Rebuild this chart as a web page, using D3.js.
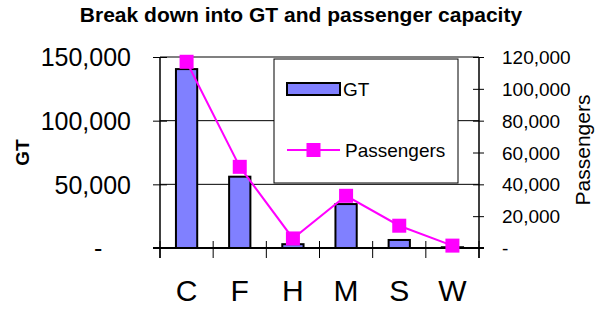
<!DOCTYPE html>
<html>
<head>
<meta charset="utf-8">
<script src="https://cdn.jsdelivr.net/npm/d3@7"></script>
<style>
  body { margin: 0; background: #fff; }
  text { font-family: "Liberation Sans", Arial, sans-serif; fill: #000; }
</style>
</head>
<body>
<div id="chart"></div>
<script>
// data
const categories = ['C', 'F', 'H', 'M', 'S', 'W'];
const gtValues = [140500, 56000, 3000, 34500, 6300, 600];
const passengerValues = [117000, 51000, 6000, 32800, 14000, 1500];
const gtTicks = [0, 50000, 100000, 150000];
const paxTicks = [0, 20000, 40000, 60000, 80000, 100000, 120000];

const w = 603, h = 309;
const pLeft = 160, pRight = 479, pTop = 57, pBottom = 248;

const svg = d3.select('#chart').append('svg')
  .attr('width', w).attr('height', h);

const x = d3.scaleBand().domain(categories).range([pLeft, pRight]).padding(0);
const yGT = d3.scaleLinear().domain([0, 150000]).range([pBottom, pTop]);
const yPax = d3.scaleLinear().domain([0, 120000]).range([pBottom, pTop]);

const fmt = d => d === 0 ? '-' : d3.format(',')(d);

// title
svg.append('text')
  .attr('x', 301).attr('y', 22)
  .attr('text-anchor', 'middle')
  .style('font-weight', 'bold').style('font-size', '21px')
  .text('Break down into GT and passenger capacity');

// gridlines
svg.append('g').selectAll('line')
  .data(gtTicks.filter(d => d > 0))
  .enter().append('line')
  .attr('x1', pLeft).attr('x2', pRight)
  .attr('y1', d => yGT(d)).attr('y2', d => yGT(d))
  .attr('stroke', d => d === 150000 ? '#808080' : '#000')
  .attr('stroke-width', d => d === 150000 ? 2 : 1);

// left axis
const yAxisL = d3.axisLeft(yGT).tickValues(gtTicks).tickFormat(fmt).tickSize(0).tickPadding(29);
const gL = svg.append('g').attr('transform', 'translate(' + pLeft + ',0)').call(yAxisL);
gL.select('.domain').remove();
gL.selectAll('text').style('font-size', '25px').attr('dy', '0.35em');
// zero shown as an accounting dash, further left
gL.selectAll('.tick text').filter(d => d === 0)
  .attr('text-anchor', 'start').attr('x', -66);
gL.selectAll('.tick').append('line').attr('x1', -7).attr('x2', 7).attr('stroke', '#000');
svg.append('line').attr('x1', pLeft).attr('x2', pLeft).attr('y1', pTop).attr('y2', pBottom + 10)
  .attr('stroke', '#000').attr('stroke-width', 1.5);

// right axis
const yAxisR = d3.axisRight(yPax).tickValues(paxTicks).tickFormat(fmt).tickSize(0).tickPadding(23);
const gR = svg.append('g').attr('transform', 'translate(' + pRight + ',0)').call(yAxisR);
gR.select('.domain').remove();
gR.selectAll('text').style('font-size', '19px').attr('dy', '0.35em');
gR.selectAll('.tick').append('line').attr('x1', -6).attr('x2', 5).attr('stroke', '#000');
svg.append('line').attr('x1', pRight).attr('x2', pRight).attr('y1', pTop).attr('y2', pBottom + 10)
  .attr('stroke', '#000').attr('stroke-width', 1.5);

// bars
const bw = x.bandwidth() * 0.4;
svg.append('g').selectAll('rect')
  .data(categories)
  .enter().append('rect')
  .attr('x', d => x(d) + (x.bandwidth() - bw) / 2)
  .attr('y', (d, i) => yGT(gtValues[i]))
  .attr('width', bw)
  .attr('height', (d, i) => pBottom - yGT(gtValues[i]))
  .attr('fill', '#8080ff')
  .attr('stroke', '#000').attr('stroke-width', 2);

// bottom axis
const xAxis = d3.axisBottom(x).tickSize(0).tickPadding(32);
const gX = svg.append('g').attr('transform', 'translate(0,' + pBottom + ')').call(xAxis);
gX.select('.domain').remove();
gX.selectAll('text').style('font-size', '30px');
svg.append('line').attr('x1', pLeft - 7).attr('x2', pRight + 5).attr('y1', pBottom).attr('y2', pBottom)
  .attr('stroke', '#000').attr('stroke-width', 2);
svg.append('g').selectAll('line')
  .data(categories.concat(['end']))
  .enter().append('line')
  .attr('x1', (d, i) => pLeft + i * x.step()).attr('x2', (d, i) => pLeft + i * x.step())
  .attr('y1', pBottom - 7).attr('y2', pBottom + 10)
  .attr('stroke', '#000');

// passenger line
const line = d3.line()
  .x((d, i) => x(categories[i]) + x.bandwidth() / 2)
  .y(d => yPax(d));
svg.append('path').datum(passengerValues)
  .attr('d', line).attr('fill', 'none')
  .attr('stroke', '#ff00ff').attr('stroke-width', 2);
const ms = 14;
svg.append('g').selectAll('rect')
  .data(passengerValues)
  .enter().append('rect')
  .attr('x', (d, i) => x(categories[i]) + x.bandwidth() / 2 - ms / 2)
  .attr('y', d => yPax(d) - ms / 2)
  .attr('width', ms).attr('height', ms)
  .attr('fill', '#ff00ff');

// axis titles
svg.append('text')
  .attr('transform', 'translate(29,' + (pTop + pBottom) / 2 + ') rotate(-90)')
  .attr('text-anchor', 'middle')
  .style('font-weight', 'bold').style('font-size', '19px')
  .text('GT');
svg.append('text')
  .attr('transform', 'translate(590,150) rotate(-90)')
  .attr('text-anchor', 'middle')
  .style('font-size', '21px')
  .text('Passengers');

// legend
const lg = svg.append('g').attr('transform', 'translate(274,59)');
lg.append('rect').attr('width', 184).attr('height', 124)
  .attr('fill', '#fff').attr('stroke', '#000').attr('stroke-width', 1);
lg.append('rect').attr('x', 13).attr('y', 24).attr('width', 53).attr('height', 12)
  .attr('fill', '#8080ff').attr('stroke', '#000').attr('stroke-width', 2);
lg.append('text').attr('x', 69).attr('y', 30).attr('dy', '0.35em')
  .style('font-size', '19px').text('GT');
lg.append('line').attr('x1', 13).attr('x2', 66).attr('y1', 91).attr('y2', 91)
  .attr('stroke', '#ff00ff').attr('stroke-width', 2);
lg.append('rect').attr('x', 39.5 - ms / 2).attr('y', 91 - ms / 2).attr('width', ms).attr('height', ms)
  .attr('fill', '#ff00ff');
lg.append('text').attr('x', 71).attr('y', 91).attr('dy', '0.35em')
  .style('font-size', '19px').text('Passengers');
</script>
</body>
</html>
